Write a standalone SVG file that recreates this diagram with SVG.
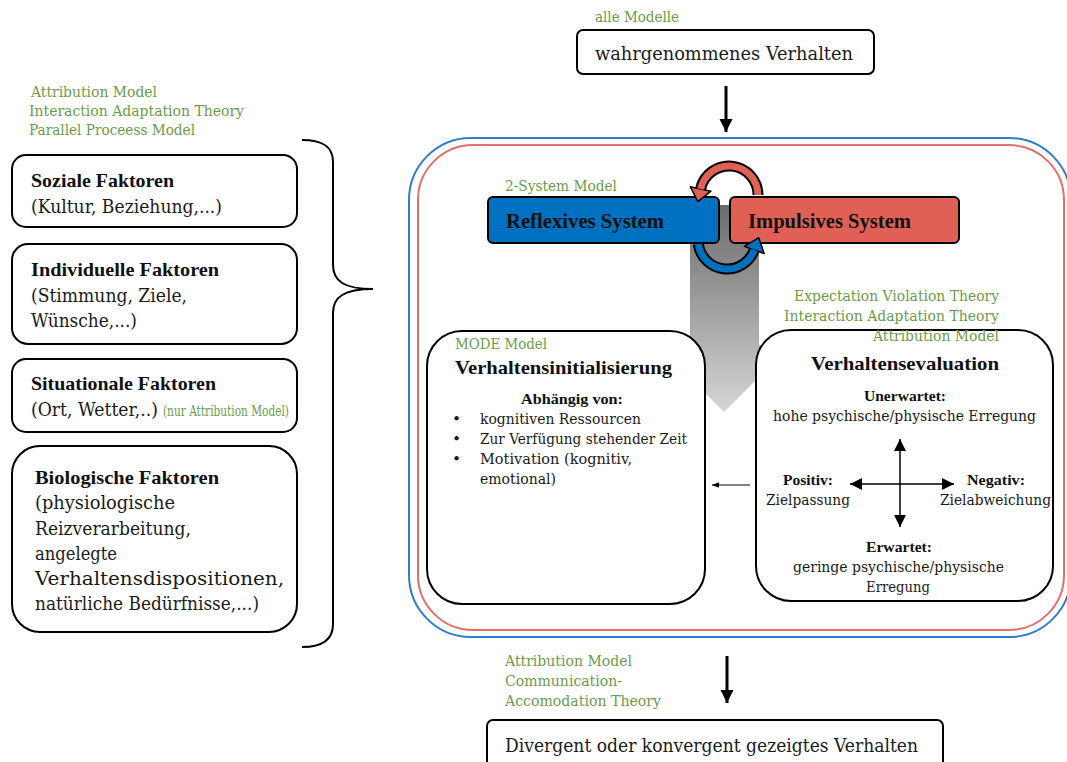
<svg xmlns="http://www.w3.org/2000/svg" width="1067" height="762" viewBox="0 0 1067 762">
  <style>
    .box { fill: #ffffff; stroke: #000000; stroke-width: 2; }
    .t { font-family: "DejaVu Serif", "Liberation Serif", serif; font-size: 18.5px; fill: #1a1a1a; }
    .bt { font-family: "Liberation Serif", "DejaVu Serif", serif; font-size: 19.5px; font-weight: bold; fill: #111111; }
    .sys { font-family: "Liberation Serif", "DejaVu Serif", serif; font-size: 21px; font-weight: bold; fill: #111111; }
    .g { font-family: "DejaVu Serif", "Liberation Serif", serif; font-size: 15px; fill: #6b9b4b; }
    .s { font-family: "DejaVu Serif", "Liberation Serif", serif; font-size: 15.5px; fill: #1a1a1a; }
    .sb { font-family: "Liberation Serif", "DejaVu Serif", serif; font-size: 15.5px; font-weight: bold; fill: #111111; }
    .flow { stroke: #000000; stroke-width: 3; fill: none; }
    .axis { stroke: #000000; stroke-width: 1.5; fill: none; }
  </style>
  <defs>
    <linearGradient id="flowFill" x1="0" y1="0" x2="0" y2="1">
      <stop offset="0" stop-color="#6b6b6b"/>
      <stop offset="1" stop-color="#d6d6d6"/>
    </linearGradient>
    <marker id="bigHead" viewBox="0 0 10 10" refX="10" refY="5" markerWidth="4.5" markerHeight="4.5" orient="auto">
      <path d="M0,0 L10,5 L0,10 z" fill="#000000"/>
    </marker>
    <marker id="axisHead" viewBox="0 0 10 10" refX="10" refY="5" markerWidth="8" markerHeight="8" orient="auto-start-reverse">
      <path d="M0,0 L10,5 L0,10 z" fill="#000000"/>
    </marker>
    <marker id="tinyHead" viewBox="0 0 10 10" refX="10" refY="5" markerWidth="7" markerHeight="7" orient="auto">
      <path d="M0,1 L10,5 L0,9 z" fill="#000000"/>
    </marker>
  </defs>

  <!-- influencing factors (left column) -->
  <g id="factor-labels">
    <text class="g" x="31" y="97" textLength="126" lengthAdjust="spacingAndGlyphs">Attribution Model</text>
    <text class="g" x="29" y="116" textLength="215" lengthAdjust="spacingAndGlyphs">Interaction Adaptation Theory</text>
    <text class="g" x="29" y="135" textLength="166" lengthAdjust="spacingAndGlyphs">Parallel Proceess Model</text>
  </g>
  <g id="soziale-faktoren">
    <rect class="box" x="12" y="155" width="285" height="72" rx="14"/>
    <text class="bt" x="31" y="187" textLength="143" lengthAdjust="spacingAndGlyphs">Soziale Faktoren</text>
    <text class="t" x="31" y="213" textLength="191" lengthAdjust="spacingAndGlyphs">(Kultur, Beziehung,...)</text>
  </g>
  <g id="individuelle-faktoren">
    <rect class="box" x="12" y="244" width="285" height="100" rx="16"/>
    <text class="bt" x="31" y="276" textLength="188" lengthAdjust="spacingAndGlyphs">Individuelle Faktoren</text>
    <text class="t" x="31" y="302" textLength="156" lengthAdjust="spacingAndGlyphs">(Stimmung, Ziele,</text>
    <text class="t" x="31" y="327" textLength="106" lengthAdjust="spacingAndGlyphs">Wünsche,...)</text>
  </g>
  <g id="situationale-faktoren">
    <rect class="box" x="12" y="359" width="285" height="73" rx="14"/>
    <text class="bt" x="31" y="390" textLength="185" lengthAdjust="spacingAndGlyphs">Situationale Faktoren</text>
    <text class="t" x="31" y="416" textLength="127" lengthAdjust="spacingAndGlyphs">(Ort, Wetter,..)</text>
    <text class="g" x="163" y="416" font-size="10.5" textLength="126" lengthAdjust="spacingAndGlyphs">(nur Attribution Model)</text>
  </g>
  <g id="biologische-faktoren">
    <rect class="box" x="12" y="446" width="285" height="186" rx="28"/>
    <text class="bt" x="35" y="484" textLength="184" lengthAdjust="spacingAndGlyphs">Biologische Faktoren</text>
    <text class="t" x="35" y="509" textLength="140" lengthAdjust="spacingAndGlyphs">(physiologische</text>
    <text class="t" x="35" y="535" textLength="156" lengthAdjust="spacingAndGlyphs">Reizverarbeitung,</text>
    <text class="t" x="35" y="560" textLength="82" lengthAdjust="spacingAndGlyphs">angelegte</text>
    <text class="t" x="35" y="585" textLength="249" lengthAdjust="spacingAndGlyphs">Verhaltensdispositionen,</text>
    <text class="t" x="35" y="610" textLength="224" lengthAdjust="spacingAndGlyphs">natürliche Bedürfnisse,...)</text>
  </g>

  <!-- curly brace gathering the factors -->
  <g id="factor-brace">
    <path d="M302,140 C322,140 333,146 333,162 L333,265 C333,281 344,289 373,289 C344,289 333,297 333,313 L333,624 C333,640 322,647 302,647" fill="none" stroke="#000000" stroke-width="2"/>
  </g>

  <!-- processing frame -->
  <g id="processing-frame">
    <rect x="409" y="138" width="662" height="499" rx="62" fill="none" stroke="#2f7ccb" stroke-width="2"/>
    <rect x="418" y="145" width="646" height="485" rx="55" fill="none" stroke="#e0706a" stroke-width="2"/>
  </g>

  <!-- downward processing flow -->
  <g id="processing-flow">
    <polygon points="690,205 759,205 759,345 791,345 724,412 657,345 690,345" fill="url(#flowFill)"/>
  </g>

  <g id="verhaltensinitialisierung">
    <rect class="box" x="427" y="331" width="278" height="273" rx="35"/>
    <text class="g" x="455" y="349" textLength="92" lengthAdjust="spacingAndGlyphs">MODE Model</text>
    <text class="bt" x="455" y="374" font-size="21" textLength="217" lengthAdjust="spacingAndGlyphs">Verhaltensinitialisierung</text>
    <text class="sb" x="521" y="404" textLength="102" lengthAdjust="spacingAndGlyphs">Abhängig  von:</text>
    <text class="s" x="452" y="424">•</text>
    <text class="s" x="452" y="444">•</text>
    <text class="s" x="452" y="464">•</text>
    <text class="s" x="480" y="424" textLength="161" lengthAdjust="spacingAndGlyphs">kognitiven Ressourcen</text>
    <text class="s" x="480" y="444" textLength="207" lengthAdjust="spacingAndGlyphs">Zur Verfügung stehender Zeit</text>
    <text class="s" x="480" y="464" textLength="152" lengthAdjust="spacingAndGlyphs">Motivation (kognitiv,</text>
    <text class="s" x="480" y="484" textLength="76" lengthAdjust="spacingAndGlyphs">emotional)</text>
  </g>

  <g id="verhaltensevaluation">
    <text class="g" x="999" y="301" text-anchor="end" textLength="205" lengthAdjust="spacingAndGlyphs">Expectation Violation Theory</text>
    <text class="g" x="999" y="321" text-anchor="end" textLength="215" lengthAdjust="spacingAndGlyphs">Interaction Adaptation Theory</text>
    <rect class="box" x="756" y="330" width="297" height="271" rx="35"/>
    <text class="g" x="999" y="341" text-anchor="end" textLength="126" lengthAdjust="spacingAndGlyphs">Attribution Model</text>
    <text class="bt" x="811" y="370" font-size="21" textLength="188" lengthAdjust="spacingAndGlyphs">Verhaltensevaluation</text>
    <text class="sb" x="864" y="401" textLength="82" lengthAdjust="spacingAndGlyphs">Unerwartet:</text>
    <text class="s" x="773" y="421" textLength="263" lengthAdjust="spacingAndGlyphs">hohe psychische/physische Erregung</text>
    <text class="sb" x="783" y="485" textLength="50" lengthAdjust="spacingAndGlyphs">Positiv:</text>
    <text class="s" x="766" y="505" textLength="84" lengthAdjust="spacingAndGlyphs">Zielpassung</text>
    <text class="sb" x="967" y="485" textLength="58" lengthAdjust="spacingAndGlyphs">Negativ:</text>
    <text class="s" x="940" y="505" textLength="111" lengthAdjust="spacingAndGlyphs">Zielabweichung</text>
    <text class="sb" x="866" y="552" textLength="66" lengthAdjust="spacingAndGlyphs">Erwartet:</text>
    <text class="s" x="793" y="572" textLength="211" lengthAdjust="spacingAndGlyphs">geringe psychische/physische</text>
    <text class="s" x="866" y="592" textLength="64" lengthAdjust="spacingAndGlyphs">Erregung</text>
    <line class="axis" x1="900" y1="439" x2="900" y2="527" marker-start="url(#axisHead)" marker-end="url(#axisHead)"/>
    <line class="axis" x1="850" y1="484" x2="954" y2="484" marker-start="url(#axisHead)" marker-end="url(#axisHead)"/>
  </g>

  <!-- dual system -->
  <g id="reflexives-system">
    <text class="g" x="505" y="191" textLength="112" lengthAdjust="spacingAndGlyphs">2-System Model</text>
    <rect x="488" y="197" width="231" height="46" rx="5" fill="#0070c0" stroke="#000000" stroke-width="2"/>
    <text class="sys" x="506" y="228" textLength="158" lengthAdjust="spacingAndGlyphs">Reflexives System</text>
  </g>
  <g id="impulsives-system">
    <rect x="730" y="197" width="229" height="46" rx="5" fill="#e06055" stroke="#000000" stroke-width="2"/>
    <text class="sys" x="748" y="228" textLength="163" lengthAdjust="spacingAndGlyphs">Impulsives System</text>
  </g>

  <!-- connectors -->
  <g id="connectors">
    <line class="flow" x1="726" y1="86" x2="726" y2="132" marker-end="url(#bigHead)"/>
    <line class="flow" x1="727" y1="656" x2="727" y2="703" marker-end="url(#bigHead)"/>
    <line x1="750" y1="485" x2="712" y2="485" stroke="#000000" stroke-width="1" marker-end="url(#tinyHead)"/>

    <!-- impulsive to reflexive loop -->
    <path d="M758,195 A29,29 0 0 0 700.63,188.97" fill="none" stroke="#000000" stroke-width="11"/>
    <polygon points="710.90,191.15 690.36,186.79 697.9,201.7" fill="#e06055" stroke="#000000" stroke-width="1.5" stroke-linejoin="round"/>
    <path d="M758,195 A29,29 0 0 0 700.63,188.97" fill="none" stroke="#e06055" stroke-width="7"/>

    <!-- reflexive to impulsive loop -->
    <path d="M698.28,244.04 A29,29 0 0 0 754.25,249.92" fill="none" stroke="#000000" stroke-width="11"/>
    <polygon points="744.38,246.33 764.12,253.51 758.7,237.7" fill="#0070c0" stroke="#000000" stroke-width="1.5" stroke-linejoin="round"/>
    <path d="M698.28,244.04 A29,29 0 0 0 754.25,249.92" fill="none" stroke="#0070c0" stroke-width="7"/>
  </g>

  <g id="wahrgenommenes-verhalten">
    <text class="g" x="595" y="22" textLength="84" lengthAdjust="spacingAndGlyphs">alle Modelle</text>
    <rect class="box" x="577" y="30" width="297" height="44" rx="6"/>
    <text class="t" x="595" y="60" textLength="258" lengthAdjust="spacingAndGlyphs">wahrgenommenes Verhalten</text>
  </g>

  <g id="gezeigtes-verhalten">
    <text class="g" x="505" y="666" textLength="127" lengthAdjust="spacingAndGlyphs">Attribution Model</text>
    <text class="g" x="505" y="686" textLength="117" lengthAdjust="spacingAndGlyphs">Communication-</text>
    <text class="g" x="505" y="706" textLength="156" lengthAdjust="spacingAndGlyphs">Accomodation Theory</text>
    <rect class="box" x="487" y="720" width="456" height="50" rx="6"/>
    <text class="t" x="505" y="752" textLength="413" lengthAdjust="spacingAndGlyphs">Divergent oder konvergent gezeigtes Verhalten</text>
  </g>
</svg>
